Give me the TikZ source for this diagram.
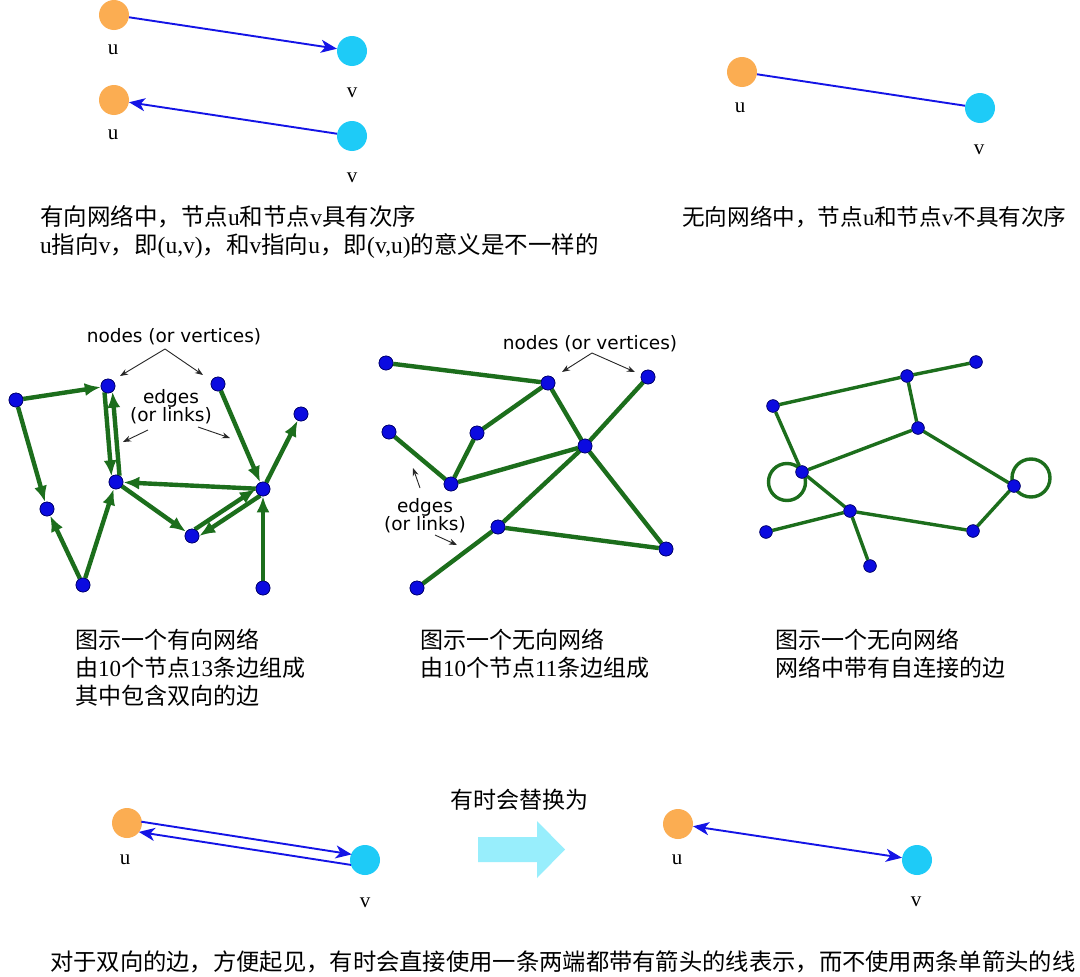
\documentclass[tikz,border=0pt]{standalone}
\usepackage{fontspec}
\setmainfont{Liberation Serif}
\newfontfamily\cjk{Noto Sans CJK SC}
\newfontfamily\lblfont{DejaVu Sans}
\usetikzlibrary{arrows.meta,calc}
\newcommand{\zh}[1]{{\cjk #1}}
\definecolor{uorange}{HTML}{FBAD52}
\definecolor{vcyan}{HTML}{1ECBF7}
\definecolor{lineblue}{HTML}{1414E6}
\definecolor{gedge}{HTML}{1C6E1C}
\definecolor{gnode}{HTML}{0B0BE0}
\definecolor{bigarrow}{HTML}{98EEFC}
\tikzset{
  unode/.style={circle, fill=uorange, minimum size=30pt, inner sep=0pt},
  vnode/.style={circle, fill=vcyan, minimum size=30pt, inner sep=0pt},
  lab/.style={font=\fontsize{21}{24}\selectfont, inner sep=0pt},
  txt/.style={anchor=west, inner sep=0pt, font=\fontsize{23.5}{27}\selectfont},
  captxt/.style={anchor=west, inner sep=0pt, font=\fontsize{23}{27}\selectfont},
  bl/.style={draw=lineblue, line width=1.9pt},
  barr/.style={bl, -{Stealth[length=16pt,width=13pt,inset=4.5pt]}},
  gn/.style={circle, fill=gnode, draw=blue!40!black, line width=0.6pt, minimum size=14pt, inner sep=0pt},
  gns/.style={gn, minimum size=12.5pt},
  ge/.style={draw=gedge, line width=4.4pt},
  ge3/.style={draw=gedge, line width=3.4pt},
  darr/.style={ge, -{Latex[length=16pt,width=13pt]}},
  note/.style={font=\lblfont\fontsize{18.5}{21}\selectfont, inner sep=0pt, align=center},
  narr/.style={draw=black!85, line width=0.9pt, -{Stealth[length=8pt,width=6pt]}}
}
\begin{document}
\begin{tikzpicture}[x=1pt,y=-1pt]
\useasboundingbox (0,0) rectangle (1080,977);
\fill[white] (0,0) rectangle (1080,977);

% ---------- top left: directed u,v ----------
\node[unode] (u1) at (114,15) {};
\node[vnode] (v1) at (352,51) {};
\node[lab] (lu1) at (113,50) {u};
\node[lab] (lv1) at (352,93) {v};
\draw[barr] (u1) -- (v1);
\node[unode] (u2) at (114,100) {};
\node[vnode] (v2) at (352,136) {};
\node[lab] (lu2) at (113,135) {u};
\node[lab] (lv2) at (352,178) {v};
\draw[barr] (v2) -- (u2);

% ---------- top right: undirected ----------
\node[unode] (u3) at (742,72) {};
\node[vnode] (v3) at (980,108) {};
\node[lab] (lu3) at (740,108) {u};
\node[lab] (lv3) at (979,150) {v};
\draw[bl] (u3) -- (v3);

\node[txt] (t1) at (40,217) {\zh{有向网络中，节点}u\zh{和节点}v\zh{具有次序}};
\node[txt] (t2) at (40,246) {u\zh{指向}v\zh{，即}(u,v)\zh{，和}v\zh{指向}u\zh{，即}(v,u)\zh{的意义是不一样的}};
\node[txt, font=\fontsize{22.6}{26}\selectfont] (t3) at (682,217) {\zh{无向网络中，节点}u\zh{和节点}v\zh{不具有次序}};

% ---------- graph 1 (directed) ----------
\node[gn] (A) at (16,400) {};
\node[gn] (B) at (108,386) {};
\node[gn] (C) at (218,384) {};
\node[gn] (D) at (301,414) {};
\node[gn] (E) at (116,482) {};
\node[gn] (F) at (263,489) {};
\node[gn] (G) at (47,509) {};
\node[gn] (H) at (192,536) {};
\node[gn] (I) at (83,585) {};
\node[gn] (J) at (263,588) {};
\draw[darr] (A) -- (B);
\draw[darr] (A) -- (G);
\draw[darr, shorten <=6pt, shorten >=6pt] ($(B)!4pt!-90:(E)$) -- ($(E)!4pt!90:(B)$);
\draw[darr, shorten <=6pt, shorten >=6pt] ($(E)!4pt!-90:(B)$) -- ($(B)!4pt!90:(E)$);
\draw[darr] (C) -- (F);
\draw[darr] (F) -- (D);
\draw[darr] (F) -- (E);
\draw[darr] (E) -- (H);
\draw[darr, shorten <=6pt, shorten >=6pt] ($(H)!4pt!90:(F)$) -- ($(F)!4pt!-90:(H)$);
\draw[darr, shorten <=6pt, shorten >=6pt] ($(F)!4pt!90:(H)$) -- ($(H)!4pt!-90:(F)$);
\draw[darr] (I) -- (G);
\draw[darr] (I) -- (E);
\draw[darr] (J) -- (F);
\foreach \n in {A,B,C,D,E,F,G,H,I,J} \node[gn] at (\n) {};

\node[note] (n1) at (174,337) {nodes (or vertices)};
\coordinate (n1s) at (165,349);
\coordinate (n1a) at (120,376);
\coordinate (n1b) at (203,375);
\draw[narr] (n1s) -- (n1a);
\draw[narr] (n1s) -- (n1b);
\node[note] (e1) at (171,407) {edges\\[-3pt](or links)};
\coordinate (e1s) at (148,430);
\coordinate (e1a) at (123,442);
\coordinate (e1t) at (198,427);
\coordinate (e1b) at (230,438);
\draw[narr] (e1s) -- (e1a);
\draw[narr] (e1t) -- (e1b);

% ---------- graph 2 (undirected) ----------
\node[gn] (a) at (386,363) {};
\node[gn] (b) at (548,383) {};
\node[gn] (c) at (648,377) {};
\node[gn] (d) at (389,432) {};
\node[gn] (e) at (477,433) {};
\node[gn] (f) at (585,446) {};
\node[gn] (g) at (451,484) {};
\node[gn] (h) at (498,527) {};
\node[gn] (i) at (666,549) {};
\node[gn] (j) at (417,588) {};
\draw[ge] (a) -- (b);
\draw[ge] (b) -- (e);
\draw[ge] (e) -- (g);
\draw[ge] (d) -- (g);
\draw[ge] (g) -- (f);
\draw[ge] (b) -- (f);
\draw[ge] (f) -- (i);
\draw[ge] (c) -- (f);
\draw[ge] (f) -- (h);
\draw[ge] (h) -- (i);
\draw[ge] (h) -- (j);
\foreach \n in {a,b,c,d,e,f,g,h,i,j} \node[gn] at (\n) {};

\node[note] (n2) at (590,344) {nodes (or vertices)};
\coordinate (n2s) at (592,353);
\coordinate (n2a) at (562,372);
\coordinate (n2b) at (635,372);
\draw[narr] (n2s) -- (n2a);
\draw[narr] (n2s) -- (n2b);
\node[note] (e2) at (425,516) {edges\\[-3pt](or links)};
\coordinate (e2s) at (420,488);
\coordinate (e2a) at (413,468);
\coordinate (e2t) at (435,535);
\coordinate (e2b) at (457,545);
\draw[narr] (e2s) -- (e2a);
\draw[narr] (e2t) -- (e2b);

% ---------- graph 3 (self loops) ----------
\node[gns] (p) at (976,362) {};
\node[gns] (q) at (907,376) {};
\node[gns] (r) at (773,406) {};
\node[gns] (s) at (918,428) {};
\node[gns] (t) at (802,472) {};
\node[gns] (w) at (1014,486) {};
\node[gns] (x) at (850,511) {};
\node[gns] (y) at (766,532) {};
\node[gns] (z) at (973,531) {};
\node[gns] (o) at (870,566) {};
\draw[ge3] (p) -- (q);
\draw[ge3] (q) -- (r);
\draw[ge3] (q) -- (s);
\draw[ge3] (r) -- (t);
\draw[ge3] (t) -- (s);
\draw[ge3] (s) -- (w);
\draw[ge3] (w) -- (z);
\draw[ge3] (z) -- (x);
\draw[ge3] (x) -- (t);
\draw[ge3] (x) -- (y);
\draw[ge3] (x) -- (o);
\draw[ge3] ($(t)+(-15,10)$) circle (18.5);
\draw[ge3] ($(w)+(17,-8)$) circle (19);
\foreach \n in {p,q,r,s,t,w,x,y,z,o} \node[gns] at (\n) {};

% ---------- captions ----------
\node[captxt] (c1) at (75,640) {\zh{图示一个有向网络}};
\node[captxt] (c2) at (75,668) {\zh{由}10\zh{个节点}13\zh{条边组成}};
\node[captxt] (c3) at (75,696) {\zh{其中包含双向的边}};
\node[captxt] (c4) at (420,640) {\zh{图示一个无向网络}};
\node[captxt] (c5) at (420,668) {\zh{由}10\zh{个节点}11\zh{条边组成}};
\node[captxt] (c6) at (775,640) {\zh{图示一个无向网络}};
\node[captxt] (c7) at (775,668) {\zh{网络中带有自连接的边}};

% ---------- bottom ----------
\node[unode] (u4) at (127,823) {};
\node[vnode] (v4) at (365,860) {};
\node[lab] (lu4) at (125,860) {u};
\node[lab] (lv4) at (365,903) {v};
\draw[barr, shorten <=14pt, shorten >=14pt] ($(u4)!3.5pt!90:(v4)$) -- ($(v4)!3.5pt!-90:(u4)$);
\draw[barr, shorten <=13pt, shorten >=13pt] ($(v4)!7pt!90:(u4)$) -- ($(u4)!7pt!-90:(v4)$);

\node[captxt] (rep) at (450,800) {\zh{有时会替换为}};
\fill[bigarrow] (478,837) -- (537,837) -- (537,821) -- (565,849.5) -- (537,878) -- (537,862) -- (478,862) -- cycle;

\node[unode] (u5) at (678,824) {};
\node[vnode] (v5) at (917,860) {};
\node[lab] (lu5) at (677,860) {u};
\node[lab] (lv5) at (916,902) {v};
\draw[bl, {Stealth[length=16pt,width=13pt,inset=4.5pt]}-{Stealth[length=16pt,width=13pt,inset=4.5pt]}] (u5) -- (v5);

\node[captxt, font=\fontsize{23.3}{27}\selectfont] (bt) at (50,962) {\zh{对于双向的边，方便起见，有时会直接使用一条两端都带有箭头的线表示，而不使用两条单箭头的线}};
\end{tikzpicture}
\end{document}
